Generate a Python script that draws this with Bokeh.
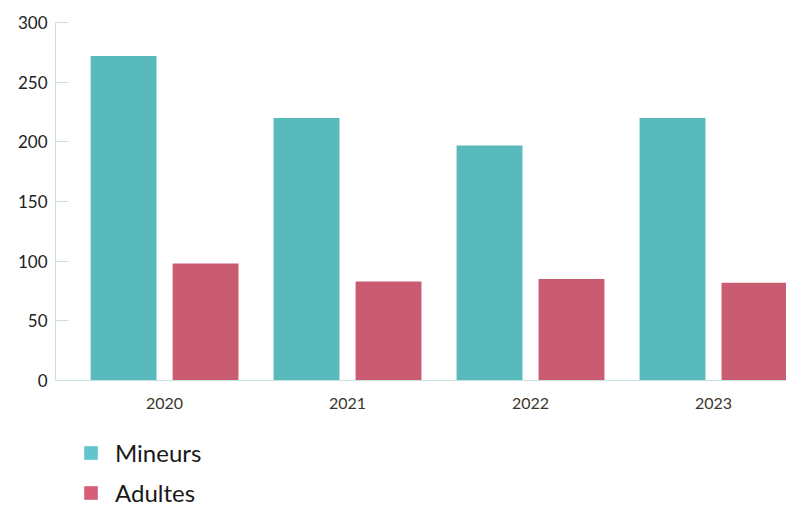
from bokeh.plotting import figure
from bokeh.layouts import column
from bokeh.models import ColumnDataSource, Range1d, FixedTicker, Legend, LegendItem
from bokeh.embed import file_html
from bokeh.resources import INLINE

years = ["2020", "2021", "2022", "2023"]
mineurs = [272, 220, 197, 220]
adultes = [98, 83, 85, 82]
y_ticks = [0, 50, 100, 150, 200, 250, 300]
series_names = ["Mineurs", "Adultes"]

bar_colors = ["#58BABB", "#C95C71"]
legend_colors = ["#62C4CC", "#D65C78"]
FONT = "Lato"

idx = list(range(len(years)))
src = ColumnDataSource(dict(
    x_m=[i - 0.224 for i in idx],
    x_a=[i + 0.224 for i in idx],
    mineurs=mineurs,
    adultes=adultes,
))

p = figure(width=786, height=425, output_backend="svg", toolbar_location=None,
           x_range=Range1d(-0.596, 3.399), y_range=Range1d(0, 300),
           min_border_left=55, min_border_right=0, min_border_top=22,
           min_border_bottom=45)
p.outline_line_color = None
p.xgrid.grid_line_color = None
p.ygrid.grid_line_color = None

p.vbar(x="x_m", top="mineurs", width=0.36, source=src, color=bar_colors[0], line_color=None)
p.vbar(x="x_a", top="adultes", width=0.36, source=src, color=bar_colors[1], line_color=None)

axis_col = "#C9DFE3"
p.yaxis.ticker = FixedTicker(ticks=y_ticks)
p.yaxis.axis_line_color = axis_col
p.yaxis.major_tick_line_color = axis_col
p.yaxis.major_tick_in = 13
p.yaxis.major_tick_out = 0
p.yaxis.minor_tick_line_color = None
p.yaxis.major_label_text_font = FONT
p.yaxis.major_label_text_font_size = "17px"
p.yaxis.major_label_text_color = "#222222"
p.yaxis.major_label_standoff = 8

p.xaxis.ticker = FixedTicker(ticks=idx)
p.xaxis.major_label_overrides = {i: y for i, y in zip(idx, years)}
p.xaxis.axis_line_color = axis_col
p.xaxis.major_tick_line_color = None
p.xaxis.minor_tick_line_color = None
p.xaxis.major_tick_in = 0
p.xaxis.major_tick_out = 0
p.xaxis.major_label_text_font = FONT
p.xaxis.major_label_text_font_size = "16px"
p.xaxis.major_label_text_color = "#3B362C"
p.xaxis.major_label_standoff = 17

# legend figure below the chart
lg = figure(width=786, height=82, output_backend="svg", toolbar_location=None,
            x_range=p.x_range, y_range=p.y_range,
            min_border_left=0, min_border_right=0, min_border_top=0, min_border_bottom=0)
lg.axis.visible = False
lg.grid.grid_line_color = None
lg.outline_line_color = None
r_m = lg.vbar(x="x_m", top="mineurs", width=0.36, source=src, color=legend_colors[0], line_color=None, visible=False)
r_a = lg.vbar(x="x_a", top="adultes", width=0.36, source=src, color=legend_colors[1], line_color=None, visible=False)

legend = Legend(items=[LegendItem(label=series_names[0], renderers=[r_m]),
                       LegendItem(label=series_names[1], renderers=[r_a])],
                orientation="vertical", location=(27, 0))
legend.border_line_color = None
legend.background_fill_alpha = 0
legend.label_text_font = FONT
legend.label_text_font_size = "24px"
legend.label_text_color = "#1a1a1a"
legend.glyph_width = 17
legend.glyph_height = 17
legend.label_standoff = 16
legend.label_height = 17
legend.spacing = 11
legend.padding = 0
legend.margin = 0
lg.add_layout(legend, "center")

layout = column(p, lg, spacing=0)
open("out.html", "w").write(file_html(layout, INLINE))
